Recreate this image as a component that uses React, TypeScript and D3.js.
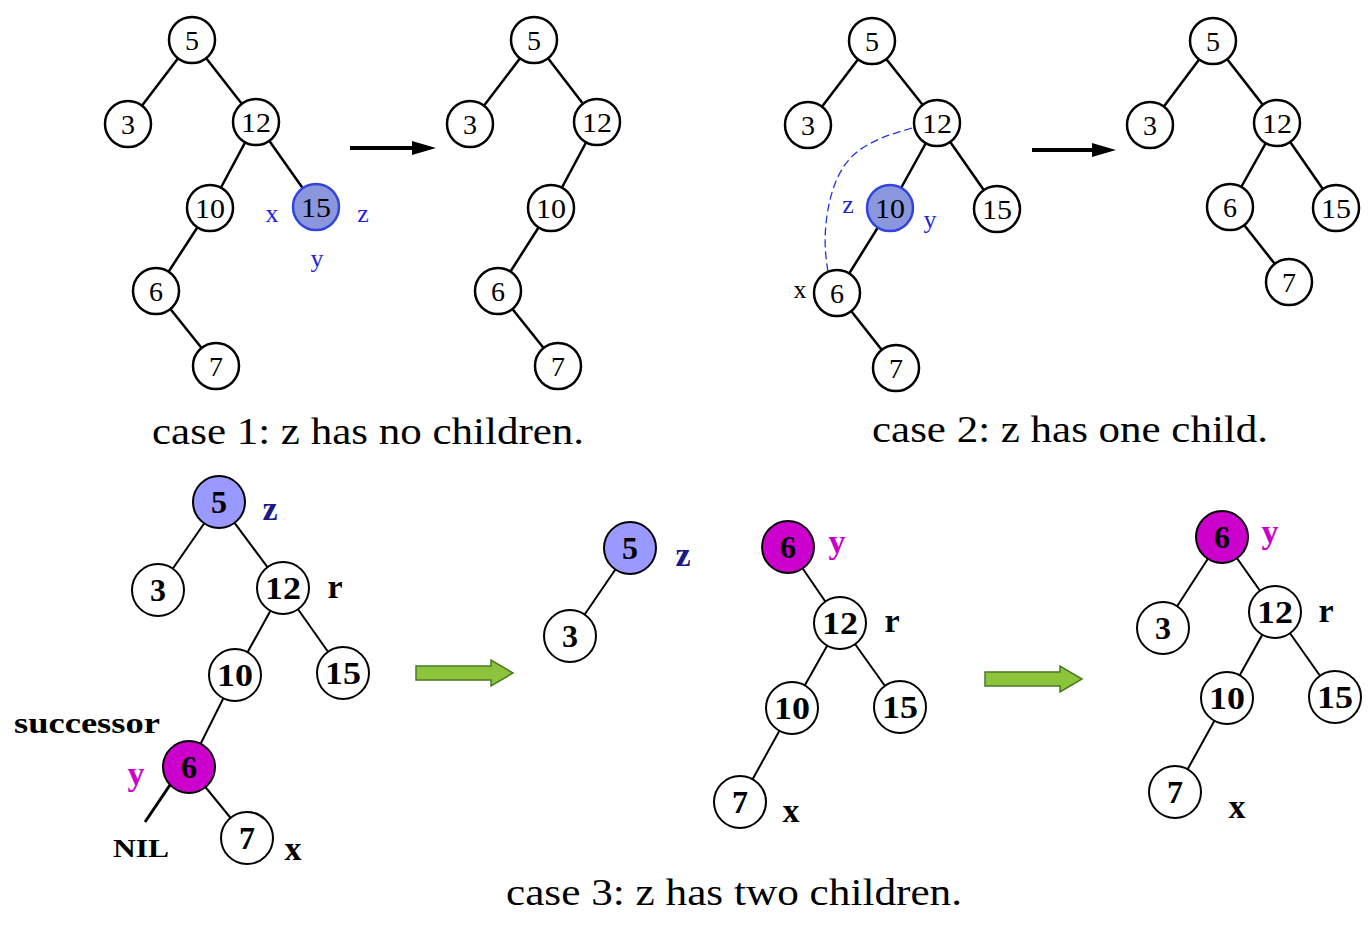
import React, { useEffect } from "react";
import * as d3 from "d3";

type N = { id: string; label: string; x: number; y: number; fill?: string };
// top trees
const tree1: N[] = [
  { id: "5", label: "5", x: 192, y: 40 }, { id: "3", label: "3", x: 128, y: 124 },
  { id: "12", label: "12", x: 256, y: 122 }, { id: "10", label: "10", x: 210, y: 208 },
  { id: "15", label: "15", x: 316, y: 207, fill: "#8a97dd" }, { id: "6", label: "6", x: 156, y: 291 },
  { id: "7", label: "7", x: 216, y: 366 },
];
const edges1 = [["5", "3"], ["5", "12"], ["12", "10"], ["12", "15"], ["10", "6"], ["6", "7"]];
const tree2: N[] = [
  { id: "5", label: "5", x: 534, y: 40 }, { id: "3", label: "3", x: 470, y: 124 },
  { id: "12", label: "12", x: 597, y: 122 }, { id: "10", label: "10", x: 551, y: 208 },
  { id: "6", label: "6", x: 498, y: 291 }, { id: "7", label: "7", x: 558, y: 366 },
];
const edges2 = [["5", "3"], ["5", "12"], ["12", "10"], ["10", "6"], ["6", "7"]];
const tree3: N[] = [
  { id: "5", label: "5", x: 872, y: 41 }, { id: "3", label: "3", x: 808, y: 125 },
  { id: "12", label: "12", x: 937, y: 123 }, { id: "10", label: "10", x: 890, y: 208, fill: "#8a97dd" },
  { id: "15", label: "15", x: 997, y: 209 }, { id: "6", label: "6", x: 837, y: 293 },
  { id: "7", label: "7", x: 896, y: 368 },
];
const edges3 = [["5", "3"], ["5", "12"], ["12", "10"], ["12", "15"], ["10", "6"], ["6", "7"]];
const tree4: N[] = [
  { id: "5", label: "5", x: 1213, y: 41 }, { id: "3", label: "3", x: 1150, y: 125 },
  { id: "12", label: "12", x: 1277, y: 123 }, { id: "6", label: "6", x: 1230, y: 207 },
  { id: "15", label: "15", x: 1336, y: 208 }, { id: "7", label: "7", x: 1289, y: 282 },
];
const edges4 = [["5", "3"], ["5", "12"], ["12", "6"], ["12", "15"], ["6", "7"]];
// bottom trees
const BLUE = "#9999ff", PURPLE = "#cc00cc";
const treeA: N[] = [
  { id: "5", label: "5", x: 219, y: 502, fill: BLUE }, { id: "3", label: "3", x: 158, y: 590 },
  { id: "12", label: "12", x: 283, y: 588 }, { id: "10", label: "10", x: 235, y: 675 },
  { id: "15", label: "15", x: 343, y: 673 }, { id: "6", label: "6", x: 189, y: 767, fill: PURPLE },
  { id: "7", label: "7", x: 247, y: 838 },
];
const edgesA = [["5", "3"], ["5", "12"], ["12", "10"], ["12", "15"], ["10", "6"], ["6", "7"]];
const treeB: N[] = [
  { id: "5", label: "5", x: 630, y: 548, fill: BLUE }, { id: "3", label: "3", x: 570, y: 636 },
  { id: "6", label: "6", x: 788, y: 547, fill: PURPLE }, { id: "12", label: "12", x: 840, y: 623 },
  { id: "10", label: "10", x: 792, y: 708 }, { id: "15", label: "15", x: 900, y: 707 },
  { id: "7", label: "7", x: 740, y: 802 },
];
const edgesB = [["5", "3"], ["6", "12"], ["12", "10"], ["12", "15"], ["10", "7"]];
const treeC: N[] = [
  { id: "6", label: "6", x: 1222, y: 537, fill: PURPLE }, { id: "3", label: "3", x: 1163, y: 628 },
  { id: "12", label: "12", x: 1275, y: 612 }, { id: "10", label: "10", x: 1227, y: 698 },
  { id: "15", label: "15", x: 1335, y: 697 }, { id: "7", label: "7", x: 1175, y: 792 },
];
const edgesC = [["6", "3"], ["6", "12"], ["12", "10"], ["12", "15"], ["10", "7"]];

const topLabels = [
  { t: "x", x: 272, y: 222, c: "#2222dd" }, { t: "z", x: 363, y: 222, c: "#2222dd" }, { t: "y", x: 317, y: 267, c: "#2222dd" },
  { t: "z", x: 848, y: 213, c: "#2222dd" }, { t: "y", x: 930, y: 228, c: "#2222dd" }, { t: "x", x: 800, y: 298, c: "#000" },
];
const botLabels = [
  { t: "z", x: 270, y: 520, c: "#1a1a8c" }, { t: "r", x: 335, y: 598, c: "#000" }, { t: "y", x: 136, y: 785, c: PURPLE },
  { t: "x", x: 293, y: 860, c: "#000" }, { t: "z", x: 683, y: 566, c: "#1a1a8c" }, { t: "y", x: 837, y: 553, c: PURPLE },
  { t: "r", x: 892, y: 632, c: "#000" }, { t: "x", x: 791, y: 822, c: "#000" }, { t: "y", x: 1270, y: 543, c: PURPLE },
  { t: "r", x: 1326, y: 622, c: "#000" }, { t: "x", x: 1237, y: 818, c: "#000" },
];
const captions = [
  { t: "case 1: z has no children.", x: 368, y: 444, w: 432 },
  { t: "case 2: z has one child.", x: 1070, y: 442, w: 396 },
  { t: "case 3: z has two children.", x: 734, y: 905, w: 456 },
];

const FONT = "'Liberation Serif', 'Times New Roman', serif";

function Tree({ nodes, edges, r, sw, big }: { nodes: N[]; edges: string[][]; r: number; sw: number; big: boolean }) {
  const m = new Map(nodes.map((n) => [n.id, n]));
  return (
    <g>
      {edges.map(([a, b], i) => {
        const A = m.get(a)!, B = m.get(b)!;
        return <line key={i} x1={A.x} y1={A.y} x2={B.x} y2={B.y} stroke="#000" strokeWidth={sw} />;
      })}
      {nodes.map((n) => (
        <g key={n.id}>
          <circle cx={n.x} cy={n.y} r={r} fill={n.fill || "#fff"} stroke={n.fill && !big ? "#3344dd" : "#000"} strokeWidth={sw} />
          <text x={n.x} y={n.y} dy="0.35em" textAnchor="middle" fontFamily={FONT}
            fontSize={big ? 32 : 28} fontWeight={big ? "bold" : "normal"}
            textLength={n.label.length > 1 ? (big ? 36 : 30) : undefined} lengthAdjust="spacingAndGlyphs">{n.label}</text>
        </g>
      ))}
    </g>
  );
}

function GreenArrow({ x1, x2, y }: { x1: number; x2: number; y: number }) {
  const h = 7, hh = 13, hl = 22;
  const d = `M${x1},${y - h}L${x2 - hl},${y - h}L${x2 - hl},${y - hh}L${x2},${y}L${x2 - hl},${y + hh}L${x2 - hl},${y + h}L${x1},${y + h}Z`;
  return <path d={d} fill="#8cc43c" stroke="#4a7a20" strokeWidth={1.5} />;
}

export default function App() {
  useEffect(() => { document.body.style.margin = "0"; }, []);
  const curve = d3.line().curve(d3.curveBasis)([[912, 128], [840, 150], [822, 230], [828, 272]]) || "";
  return (
    <svg width={1372} height={929} style={{ display: "block", background: "#fff" }}>
      <Tree nodes={tree1} edges={edges1} r={23} sw={2.5} big={false} />
      <Tree nodes={tree2} edges={edges2} r={23} sw={2.5} big={false} />
      <Tree nodes={tree3} edges={edges3} r={23} sw={2.5} big={false} />
      <Tree nodes={tree4} edges={edges4} r={23} sw={2.5} big={false} />
      <path d={curve} fill="none" stroke="#2233dd" strokeWidth={1.3} strokeDasharray="8,4" />
      <line x1={350} y1={148} x2={418} y2={148} stroke="#000" strokeWidth={4} />
      <path d="M412,141L436,148L412,155Z" fill="#000" />
      <line x1={1032} y1={150} x2={1098} y2={150} stroke="#000" strokeWidth={4} />
      <path d="M1092,143L1116,150L1092,157Z" fill="#000" />
      {topLabels.map((l, i) => (
        <text key={i} x={l.x} y={l.y} textAnchor="middle" fontFamily={FONT} fontSize={26} fill={l.c}>{l.t}</text>
      ))}
      <line x1={172} y1={782} x2={145} y2={822} stroke="#000" strokeWidth={3} />
      <Tree nodes={treeA} edges={edgesA} r={26} sw={2} big={true} />
      <Tree nodes={treeB} edges={edgesB} r={26} sw={2} big={true} />
      <Tree nodes={treeC} edges={edgesC} r={26} sw={2} big={true} />
      <GreenArrow x1={416} x2={513} y={673} />
      <GreenArrow x1={985} x2={1082} y={679} />
      {botLabels.map((l, i) => (
        <text key={i} x={l.x} y={l.y} textAnchor="middle" fontFamily={FONT} fontSize={34} fontWeight="bold" fill={l.c}>{l.t}</text>
      ))}
      <text x={87} y={733} textAnchor="middle" fontFamily={FONT} fontSize={30} fontWeight="bold" textLength={146} lengthAdjust="spacingAndGlyphs">successor</text>
      <text x={141} y={857} textAnchor="middle" fontFamily={FONT} fontSize={26} fontWeight="bold" textLength={56} lengthAdjust="spacingAndGlyphs">NIL</text>
      {captions.map((c, i) => (
        <text key={i} x={c.x} y={c.y} textAnchor="middle" fontFamily={FONT} fontSize={38} textLength={c.w} lengthAdjust="spacingAndGlyphs">{c.t}</text>
      ))}
    </svg>
  );
}
